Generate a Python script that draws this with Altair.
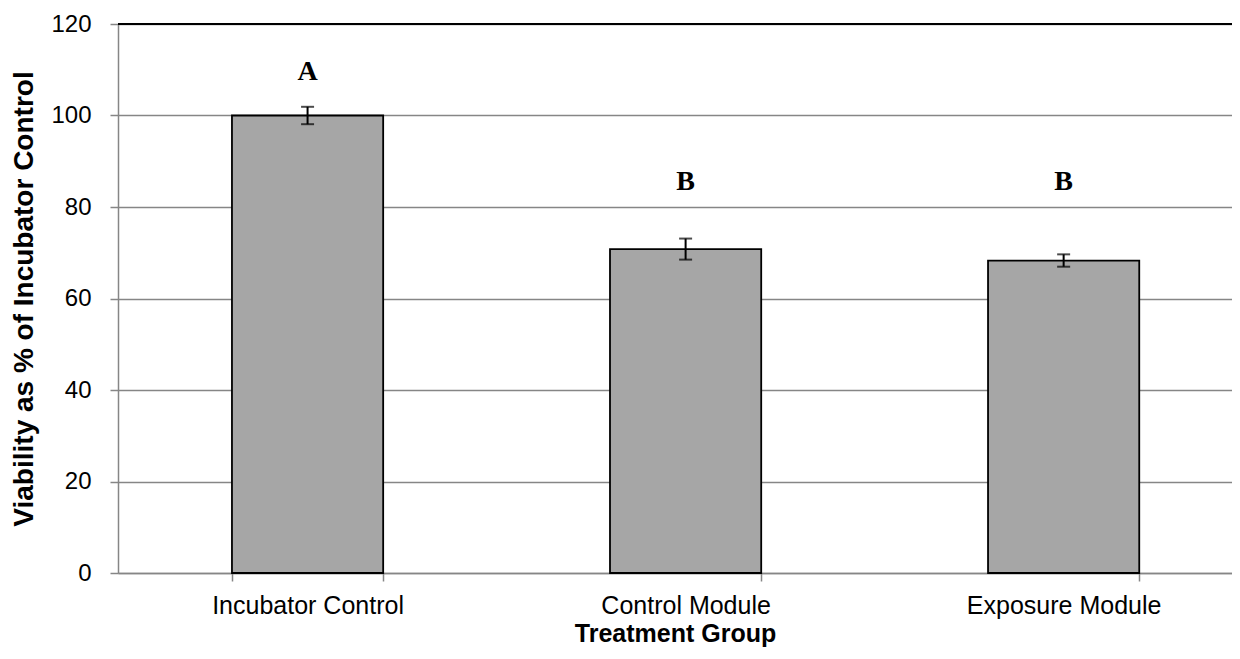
import altair as alt
import pandas as pd

groups = ["Incubator Control", "Control Module", "Exposure Module"]
viability = [100.0, 70.8, 68.3]
errors = [1.9, 2.3, 1.35]
letters = ["A", "B", "B"]
letter_y = [109.5, 85.5, 85.5]

df = pd.DataFrame({
    "group": groups,
    "value": viability,
    "err": errors,
    "letter": letters,
    "ly": letter_y,
})

FONT = "Liberation Sans"
GRAY = "#868686"

x_scale = alt.Scale(paddingInner=0.6, paddingOuter=0.2734, align=0.5513)
y_scale = alt.Scale(domain=[0, 120], nice=False)

x_enc = alt.X(
    "group:N",
    sort=groups,
    scale=x_scale,
    axis=alt.Axis(
        title="Treatment Group",
        labelAngle=0,
        labelLimit=500,
        tickBand="extent",
        tickSize=8,
        tickColor=GRAY,
        tickWidth=1.5,
        domainColor=GRAY,
        domainWidth=1.5,
        labelFont=FONT,
        labelFontSize=25,
        labelColor="black",
        labelPadding=12,
        titleFont=FONT,
        titleFontSize=25,
        titleFontWeight="bold",
        titleColor="black",
        titlePadding=3,
    ),
)

bars = alt.Chart(df).mark_bar(
    color="#a6a6a6", stroke="black", strokeWidth=1.8
).encode(
    x=x_enc,
    y=alt.Y(
        "value:Q",
        scale=y_scale,
        axis=alt.Axis(
            title="Viability as % of Incubator Control",
            values=[0, 20, 40, 60, 80, 100, 120],
            tickSize=8,
            tickColor=GRAY,
            tickWidth=1.5,
            domainColor=GRAY,
            domainWidth=1.5,
            grid=True,
            gridColor=GRAY,
            gridWidth=1.5,
            labelFont=FONT,
            labelFontSize=24,
            labelColor="black",
            labelPadding=19,
            titleFont=FONT,
            titleFontSize=28,
            titleFontWeight="bold",
            titleColor="black",
            titlePadding=12,
        ),
    ),
)

base = alt.Chart(df).transform_calculate(
    lo="datum.value - datum.err", hi="datum.value + datum.err"
)

err_rule = base.mark_rule(color="black", strokeWidth=2).encode(
    x=alt.X("group:N", sort=groups, scale=x_scale),
    y=alt.Y("lo:Q", scale=y_scale),
    y2="hi:Q",
)
cap_hi = base.mark_tick(color="black", thickness=2, size=13, orient="horizontal").encode(
    x=alt.X("group:N", sort=groups, scale=x_scale),
    y=alt.Y("hi:Q", scale=y_scale),
)
cap_lo = base.mark_tick(color="black", thickness=2, size=13, orient="horizontal").encode(
    x=alt.X("group:N", sort=groups, scale=x_scale),
    y=alt.Y("lo:Q", scale=y_scale),
)

text = alt.Chart(df).mark_text(
    font="Liberation Serif", fontSize=28, fontWeight="bold", color="black"
).encode(
    x=alt.X("group:N", sort=groups, scale=x_scale),
    y=alt.Y("ly:Q", scale=y_scale),
    text="letter:N",
)

top_line = alt.Chart(pd.DataFrame({"v": [120]})).mark_rule(
    color="black", strokeWidth=2
).encode(y=alt.Y("v:Q", scale=y_scale))

chart = alt.layer(bars, top_line, err_rule, cap_hi, cap_lo, text).properties(
    width=1114,
    height=549,
    autosize=alt.AutoSizeParams(type="none"),
    padding={"left": 110, "top": 16, "right": 0, "bottom": 74},
).configure_view(stroke=None)

chart.save("out.html", embed_options={"renderer": "svg", "actions": False})
